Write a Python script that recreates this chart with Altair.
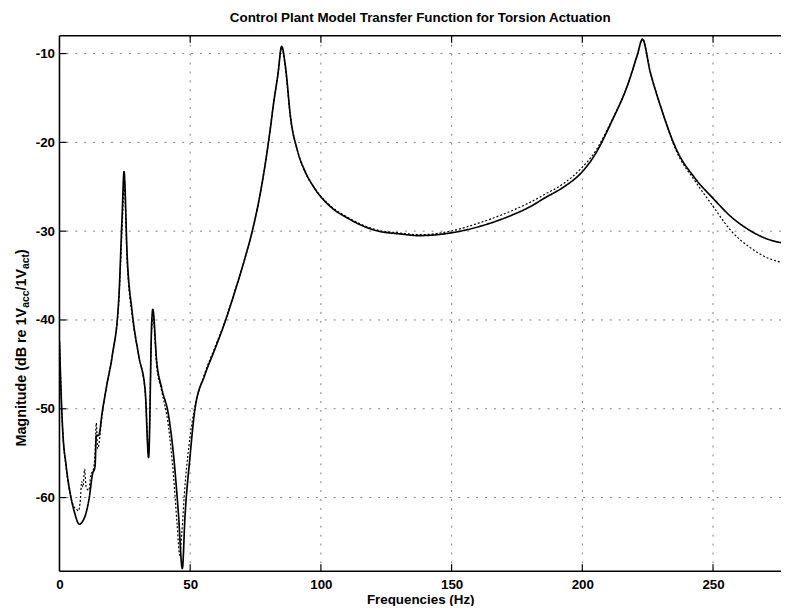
import altair as alt
import pandas as pd

# ---------------- data ----------------
model_freq = [0, 0.6, 1.25, 2.5, 4.4, 5.7, 7.6, 9, 10.1, 11.4, 12.6, 13.6, 14.1, 15, 16.4, 18,
              20.2, 22.7, 24, 24.7, 25.9, 27.8, 30.3, 32.8, 34.1, 35.3, 35.7, 37.2, 39.1, 41.7,
              43.6, 45.5, 47, 48, 49.9, 51.8, 55.6, 59.3, 63, 67, 70.7, 73.9, 76, 78.3, 80.5,
              82, 83.5, 85, 86.5, 88.4, 91, 94, 97.2, 103.5, 110, 122, 130, 137.5, 149.6,
              160.3, 173, 179, 186, 193, 200, 205, 211, 217.5, 221, 223, 226, 230, 236, 243,
              250, 257, 264, 270, 276]
model_db = [-42.4, -48, -52.5, -56.3, -60, -61.6, -63, -62.6, -61.8, -60, -57.4, -56.5, -53, -53,
            -50.3, -47.5, -44, -37.6, -28, -23.3, -32.8, -39.1, -44, -48, -55.5, -40.2, -38.8,
            -44.7, -47.7, -50.7, -55.1, -61.8, -68, -62.2, -55.5, -50.1, -46.2, -43.4, -40.5,
            -36.9, -33.3, -29.8, -27, -23.2, -18.8, -15.4, -12.5, -9.2, -11.6, -17.2, -20.9,
            -23.3, -25, -27.2, -28.5, -30, -30.3, -30.5, -30.2, -29.5, -28.2, -27.4, -26.2,
            -25, -23.3, -21.3, -17.8, -13.4, -10.2, -8.4, -12.1, -16, -20.8, -24.0, -26.3,
            -28.4, -29.9, -30.8, -31.3]

meas_freq = [0, 0.6, 1.25, 2.5, 4.4, 5.5, 6.5, 7.3, 8, 8.5, 9.0, 9.6, 10.2, 11.2, 12.0, 13.0,
             13.6, 14.1, 14.6, 16.4, 18, 20.2, 22.7, 24, 24.8, 25.9, 27.8, 30.3, 32.8, 34.1,
             35.3, 35.8, 37.2, 39.1, 41.7, 43.6, 45, 46, 46.8, 47.8, 49.5, 51.5, 55, 59.3, 63,
             67, 70.7, 73.9, 76, 78.3, 80.5, 82, 83.5, 85, 86.5, 88.4, 91, 94, 97.2, 103.5,
             110, 116, 122, 130, 137.5, 149.6, 160.3, 173, 179, 186, 193, 200, 205, 211, 217.5,
             221, 223, 226, 230, 236, 243, 250, 257, 264, 270, 276]
meas_db = [-42.4, -48, -52.5, -56.5, -60, -61, -61.3, -61.5, -60.2, -58.2, -58.8, -56.8, -58.8,
           -59.2, -57.5, -56.8, -55, -51.6, -54.5, -50.5, -47.5, -44, -37.8, -29.5, -25, -33.5,
           -39.5, -44, -48.2, -55, -41, -39.8, -45.2, -48, -52, -57.5, -63, -66.5, -64, -59.5,
           -54.2, -50.2, -46.5, -43.2, -40.4, -36.8, -33.3, -29.8, -27, -23.2, -18.8, -15.4,
           -12.5, -9.3, -11.8, -17.3, -20.9, -23.4, -25, -27.1, -28.4, -29.3, -29.9, -30.2,
           -30.4, -30.0, -29.1, -27.7, -26.9, -25.8, -24.6, -22.8, -21, -17.7, -13.4, -10.2,
           -8.3, -12.1, -16, -21.0, -24.3, -27.2, -30, -31.8, -32.9, -33.5]

x_ticks = [0, 50, 100, 150, 200, 250]
y_ticks = [-60, -50, -40, -30, -20, -10]
series_names = ["model", "measured"]

title_text = "Control Plant Model Transfer Function for Torsion Actuation"
x_title = "Frequencies (Hz)"
y_title_parts = ["Magnitude (dB re 1V", "acc", "/1V", "act", ")"]
y_title_sub = [False, True, False, True, False]

# ---------------- layout ----------------
W, H = 729, 541
FONT = "Liberation Sans"
MAIN_FS = 14.5
SUB_FS = 10.5
TICK_FS = 13.5

# approximate Arial-bold advance widths (per 1000 em) for laying out the y title pieces
_w = {"M": 833, "a": 556, "g": 611, "n": 611, "i": 278, "t": 333, "u": 611, "d": 611,
      "e": 556, " ": 278, "(": 333, ")": 333, "B": 722, "r": 389, "1": 556, "V": 667,
      "/": 278, "c": 556}


def text_width(s, fs):
    return sum(_w.get(ch, 556) for ch in s) * fs / 1000.0


df = pd.concat([
    pd.DataFrame({"f": model_freq, "db": model_db, "s": series_names[0]}),
    pd.DataFrame({"f": meas_freq, "db": meas_db, "s": series_names[1]}),
])

xs = alt.Scale(domain=[0, 276], nice=False, zero=False)
ys = alt.Scale(domain=[-68.3, -8], nice=False, zero=False)
one = pd.DataFrame({"k": [0]})

grid_style = dict(color="#333333", strokeWidth=0.8, strokeDash=[2, 7], opacity=0.8)

vgrid = alt.Chart(pd.DataFrame({"t": x_ticks[1:]})).mark_rule(**grid_style).encode(
    x=alt.X("t:Q", scale=xs))
hgrid = alt.Chart(pd.DataFrame({"t": y_ticks})).mark_rule(**grid_style).encode(
    y=alt.Y("t:Q", scale=ys))

lines = alt.Chart(df).mark_line(color="black", clip=True, interpolate="monotone").encode(
    x=alt.X("f:Q", scale=xs,
            axis=alt.Axis(values=x_ticks, title=x_title, grid=False, domain=False, ticks=False,
                          labelPadding=6, labelFont=FONT, labelFontSize=TICK_FS,
                          labelFontWeight="bold", labelColor="black", labelFlush=False,
                          titleFont=FONT, titleFontSize=13.5, titleFontWeight="bold",
                          titleColor="black", titlePadding=2)),
    y=alt.Y("db:Q", scale=ys,
            axis=alt.Axis(values=y_ticks, title=None, grid=False, domain=False, ticks=False,
                          labelPadding=5, labelFont=FONT, labelFontSize=TICK_FS,
                          labelFontWeight="bold", labelColor="black",
                          labelExpr="datum.value + ''")),
    strokeDash=alt.StrokeDash("s:N", scale=alt.Scale(domain=series_names, range=[[1, 0], [2, 2]]),
                              legend=None),
    strokeWidth=alt.StrokeWidth("s:N", scale=alt.Scale(domain=series_names, range=[1.7, 1.2]),
                                legend=None),
)

frame_style = dict(color="black", strokeWidth=1.6)
frame_left = alt.Chart(one).mark_rule(**frame_style).encode(
    x=alt.value(0), y=alt.value(0), y2=alt.value(H))
frame_top = alt.Chart(one).mark_rule(**frame_style).encode(
    y=alt.value(0), x=alt.value(0), x2=alt.value(W))
frame_bottom = alt.Chart(one).mark_rule(**frame_style).encode(
    y=alt.value(H), x=alt.value(0), x2=alt.value(W))

tick_style = dict(color="black", strokeWidth=1.2)
xt = pd.DataFrame({"t": x_ticks[1:]})
yt = pd.DataFrame({"t": y_ticks})
ticks_bottom = alt.Chart(xt).mark_rule(**tick_style).encode(
    x=alt.X("t:Q", scale=xs), y=alt.value(H - 7), y2=alt.value(H))
ticks_top = alt.Chart(xt).mark_rule(**tick_style).encode(
    x=alt.X("t:Q", scale=xs), y=alt.value(0), y2=alt.value(7))
ticks_left = alt.Chart(yt).mark_rule(**tick_style).encode(
    y=alt.Y("t:Q", scale=ys), x=alt.value(0), x2=alt.value(7))

# y-axis title with subscripts, built from rotated text pieces
sizes = [SUB_FS if s else MAIN_FS for s in y_title_sub]
widths = [text_width(p, fs) for p, fs in zip(y_title_parts, sizes)]
start = 415
base_x = -34
ytitle_layers = []
cum = 0.0
for part, fs, sub, wdt in zip(y_title_parts, sizes, y_title_sub, widths):
    ytitle_layers.append(
        alt.Chart(one).mark_text(angle=270, align="left", baseline="alphabetic", font=FONT,
                                 fontSize=fs, fontWeight="bold", color="black").encode(
            x=alt.value(base_x + (3 if sub else 0)), y=alt.value(start - cum),
            text=alt.value(part)))
    cum += wdt

chart = alt.layer(vgrid, hgrid, lines, frame_left, frame_top, frame_bottom,
                  ticks_bottom, ticks_top, ticks_left, *ytitle_layers).properties(
    width=W, height=H,
    title=alt.TitleParams(title_text, font=FONT, fontSize=13.5, fontWeight="bold", color="black",
                          anchor="middle", offset=11),
    autosize=alt.AutoSizeParams(type="none"),
    padding={"left": 52, "top": 25, "right": 0, "bottom": 32},
    background="white",
).configure_view(stroke=None)

chart.save("out.html", embed_options={"renderer": "svg", "actions": False})
